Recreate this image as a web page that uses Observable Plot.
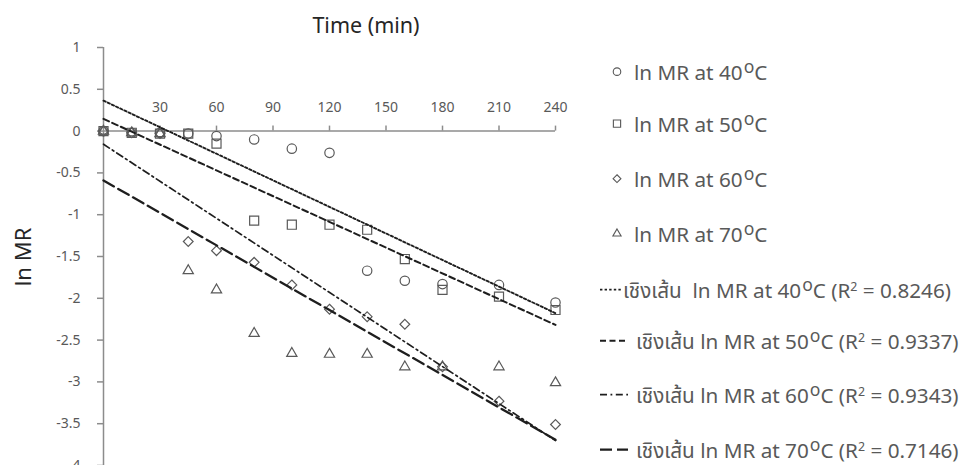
<!DOCTYPE html>
<html>
<head>
<meta charset="utf-8">
<script src="https://cdn.jsdelivr.net/npm/d3@7"></script>
<script src="https://cdn.jsdelivr.net/npm/@observablehq/plot@0.6"></script>
<style>
  html, body { margin: 0; padding: 0; background: #fff; overflow: hidden; }
  #wrap { position: relative; width: 964px; height: 465px; overflow: hidden;
          font-family: "Noto Sans", "Noto Sans Thai", "Noto Sans Thai UI", "Loma", "Garuda", "DejaVu Sans", sans-serif; }
  #chart { position: absolute; left: 0; top: 0; }
  .abs { position: absolute; white-space: nowrap; }
  .title { color: #262626; font-size: 21.5px; }
  .ylab { color: #262626; font-size: 22px; transform: translate(-50%, -50%) rotate(-90deg); }
  .leg { color: #595959; font-size: 20.7px; line-height: 1; transform: translateY(-50%); display: flex; align-items: center; }
  .deg { font-size: 0.85em; position: relative; top: -0.42em; margin-left: 1px; }
  .sup2 { font-size: 0.6em; position: relative; top: -0.6em; }
</style>
</head>
<body>
<div id="wrap">
  <div id="chart"></div>
</div>
<script>
// ---- data ----
const times = [0, 15, 30, 45, 60, 80, 100, 120, 140, 160, 180, 210, 240];
const lnMR40 = [0, -0.02, -0.02, -0.03, -0.06, -0.10, -0.21, -0.26, -1.67, -1.79, -1.83, -1.84, -2.05];
const lnMR50 = [0, -0.02, -0.03, -0.03, -0.15, -1.07, -1.12, -1.12, -1.18, -1.53, -1.90, -1.98, -2.14];
const lnMR60 = [0, -0.02, -0.03, -1.32, -1.43, -1.57, -1.84, -2.13, -2.22, -2.31, -2.82, -3.23, -3.51];
const lnMR70 = [0, -0.02, -0.03, -1.67, -1.90, -2.42, -2.66, -2.67, -2.67, -2.82, -2.82, -2.82, -3.01];
const temps = ["40", "50", "60", "70"];
const r2Values = ["0.8246", "0.9337", "0.9343", "0.7146"];
const xTicks = [30, 60, 90, 120, 150, 180, 210, 240];
const yTicks = [1, 0.5, 0, -0.5, -1, -1.5, -2, -2.5, -3, -3.5, -4];

const seriesValues = [lnMR40, lnMR50, lnMR60, lnMR70];
const symbols = ["circle", "square", "diamond2", "triangle"];
const radii = [4.7, 5.1, 4.4, 3.8];
const dashes = ["2.4,2.2", "6,3.5", "7,3.5,1.8,3.5", "12,5"];
const dashWidths = [1.9, 2, 1.7, 2.3];

const tables = seriesValues.map((vals, k) => times.map((t, i) => ({t, v: vals[i], s: temps[k]})));

const axisGray = "#8c8c8c";
const textGray = "#595959";
const markGray = "#595959";
const lineColor = "#1e1e1e";

const marks = [
  Plot.ruleX([0], {stroke: axisGray, strokeWidth: 1.5}),
  Plot.ruleY([0], {x1: 0, x2: 240, stroke: axisGray, strokeWidth: 1.5}),
  Plot.ruleX(xTicks, {x: d => d, y1: 0, y2: 0, insetTop: -5, stroke: axisGray, strokeWidth: 1.5}),
  Plot.text(xTicks, {x: d => d, y: 0, dy: -24, text: d => String(d), fill: textGray, fontSize: 14}),
  Plot.axisY({ticks: yTicks, tickSize: 6, tickPadding: 17, tickFormat: d => String(d),
              stroke: axisGray, strokeWidth: 1.5, fill: textGray, fontSize: 14, label: null})
];
tables.forEach((tab, k) => {
  marks.push(Plot.dot(tab, {x: "t", y: "v", symbol: () => symbols[k], r: radii[k],
                            stroke: markGray, strokeWidth: 1.2, fill: "none"}));
});
tables.forEach((tab, k) => {
  marks.push(Plot.linearRegressionY(tab, {x: "t", y: "v", ci: 0, stroke: lineColor,
                                          strokeWidth: dashWidths[k], strokeDasharray: dashes[k]}));
});

const plot = Plot.plot({
  width: 964,
  height: 470,
  marginLeft: 103,
  marginRight: 409,
  marginTop: 47,
  marginBottom: 5,
  style: {fontFamily: "'Noto Sans', sans-serif", background: "transparent", overflow: "visible"},
  x: {domain: [0, 240], axis: null},
  y: {domain: [-4, 1], axis: null},
  symbol: {type: "identity"},
  marks
});
document.getElementById("chart").appendChild(plot);

// ---- titles and legend (HTML text) ----
const wrap = document.getElementById("wrap");
function addDiv(cls, html, left, top) {
  const d = document.createElement("div");
  d.className = "abs " + cls;
  d.innerHTML = html;
  d.style.left = left + "px";
  d.style.top = top + "px";
  wrap.appendChild(d);
  return d;
}
const title = addDiv("title", "Time (min)", 366, 24);
title.style.transform = "translate(-50%, -50%)";
addDiv("ylab", "ln MR", 22, 257);

const markerRows = [72, 124, 179, 234];
const symbolPaths = seriesValues.map((_, k) => {
  const r = radii[k];
  const size = Math.PI * r * r;
  const typ = {circle: d3.symbolCircle, square: d3.symbolSquare, diamond2: d3.symbolDiamond2, triangle: d3.symbolTriangle}[symbols[k]];
  return d3.symbol(typ, size)();
});
temps.forEach((tp, k) => {
  const sw = `<svg width="14" height="14" style="margin-right:10px;overflow:visible"><path d="${symbolPaths[k]}" transform="translate(7,7) scale(0.8)" fill="none" stroke="${markGray}" stroke-width="1.4"/></svg>`;
  addDiv("leg", `${sw}<span>ln MR at ${tp}<span class="deg">o</span>C</span>`, 610, markerRows[k]);
});

const lineRows = [290, 341, 395, 450];
const swatchLen = [22, 28, 28, 28];
temps.forEach((tp, k) => {
  const L = swatchLen[k];
  const sw = `<svg width="${L}" height="6" style="margin-right:${k === 0 ? 1 : 8}px;overflow:visible"><line x1="0" x2="${L}" y1="3" y2="3" stroke="${lineColor}" stroke-width="${dashWidths[k]}" stroke-dasharray="${dashes[k]}"/></svg>`;
  const gap = k === 0 ? "&nbsp;&nbsp;" : "&nbsp;";
  addDiv("leg", `${sw}<span>เชิงเส้น${gap}ln MR at ${tp}<span class="deg">o</span>C (R<span class="sup2">2</span> = ${r2Values[k]})</span>`, 600, lineRows[k]);
});
</script>
</body>
</html>
